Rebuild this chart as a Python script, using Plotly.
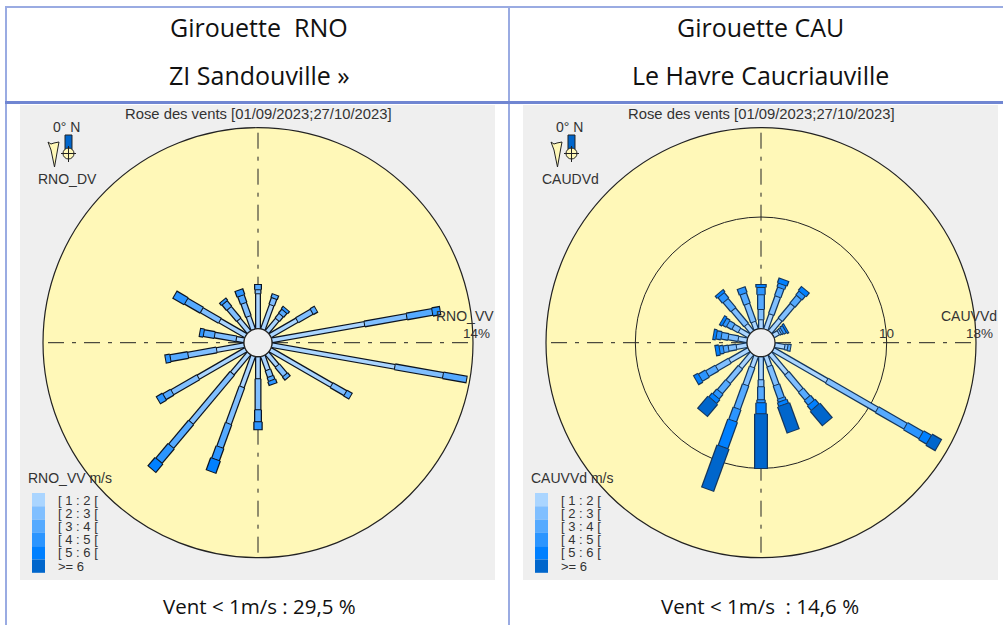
import plotly.graph_objects as go

W, H = 1003, 625
directions = [0, 20, 40, 60, 80, 100, 120, 140, 160, 180, 200, 220, 240, 260, 280, 300, 320, 340]
class_labels = ["[ 1 : 2 [", "[ 2 : 3 [", "[ 3 : 4 [", "[ 4 : 5 [", "[ 5 : 6 [", ">= 6"]
class_colors = ["#AAD5FF", "#80BFFF", "#55AAFF", "#2B95FF", "#0080FF", "#0066CC"]
class_widths = [3.5, 4.5, 5.5, 7, 9, 11.5]

# frequency (%) per speed class and direction
rno_c1 = [2.44, 1.81, 1.11, 2.16, 6.55, 8.70, 4.94, 1.11, 1.04, 1.53, 2.30, 1.81, 3.83, 1.95, 0.56, 2.09, 1.11, 0.97]
rno_c2 = [0.28, 0.49, 0.42, 1.18, 2.99, 3.41, 1.11, 0.84, 0.49, 2.16, 2.72, 4.46, 2.09, 2.02, 1.53, 1.46, 1.04, 0.97]
rno_c3 = [0.35, 0.28, 0.35, 0.35, 1.81, 1.67, 0.42, 0.28, 0.28, 0.84, 1.74, 2.16, 0.63, 1.25, 0.77, 1.25, 0.49, 0.56]
rno_c4 = [0, 0, 0.21, 0, 0.56, 0, 0, 0, 0.28, 0.56, 0.91, 1.32, 0.49, 0.35, 0.28, 0.91, 0.21, 0.42]
rno_c5 = [0, 0, 0, 0, 0, 0, 0, 0, 0, 0, 0.91, 0.77, 0, 0, 0, 0, 0, 0]
rno_c6 = [0] * 18

cau_c1 = [0.81, 1.43, 1.43, 0.54, 0, 0.90, 5.55, 2.33, 0.98, 2.06, 1.07, 1.61, 1.97, 0.98, 0.81, 0.98, 0.81, 0.72]
cau_c2 = [0.90, 1.70, 1.70, 0.18, 0, 0.27, 5.19, 1.97, 1.79, 0.63, 1.70, 1.70, 1.34, 0.72, 0.90, 0.63, 1.79, 1.70]
cau_c3 = [1.34, 0.81, 0.90, 0.18, 0, 0.27, 2.95, 0.90, 1.25, 1.16, 2.24, 1.16, 0.98, 0.45, 0.63, 0.54, 1.07, 0.98]
cau_c4 = [0.63, 0.36, 0.45, 0.27, 0, 0, 1.61, 0.54, 0.27, 0.27, 1.16, 0.54, 0.72, 0.36, 0.45, 0.36, 0.63, 0.54]
cau_c5 = [0.27, 0.45, 0.45, 0.18, 0, 0, 0.81, 0.54, 0.36, 0.98, 2.51, 0.45, 0.45, 0.36, 0.27, 0.27, 0.27, 0]
cau_c6 = [0, 0, 0, 0, 0, 0, 0.98, 1.70, 2.51, 4.92, 4.03, 1.43, 0, 0, 0, 0, 0, 0]

panels = [
    dict(sub="polar", name="RNO", dv="RNO_DV", vv="RNO_VV", rmax=14, grid=[0], edge="#0c1420",
         head=["Girouette  RNO", "ZI Sandouville »"], foot="Vent < 1m/s : 29,5 %", dx=0,
         data=[rno_c1, rno_c2, rno_c3, rno_c4, rno_c5, rno_c6]),
    dict(sub="polar2", name="CAU", dv="CAUDVd", vv="CAUVVd", rmax=18, grid=[0, 10], edge="#14365c",
         head=["Girouette CAU", "Le Havre Caucriauville"], foot="Vent < 1m/s  : 14,6 %", dx=503,
         data=[cau_c1, cau_c2, cau_c3, cau_c4, cau_c5, cau_c6]),
]

GRAY = "#EFEFEF"
YEL = "#FFF8B8"
RULE = "#9AABE2"
INK = "#333333"
SMALL = "Liberation Sans"
BODY = "Open Sans"

px = lambda x: x / W
py = lambda y: 1 - y / H

fig = go.Figure()
shapes, annos = [], []


def rect(x0, y0, x1, y1, color, line=None):
    shapes.append(dict(type="rect", xref="paper", yref="paper", x0=px(x0), x1=px(x1), y0=py(y1), y1=py(y0),
                       fillcolor=color, line=dict(width=0) if line is None else line, layer="below"))


def text(x, y, s, size=14, anchor="center", family=SMALL, color=INK):
    annos.append(dict(xref="paper", yref="paper", x=px(x), y=py(y), text=s, showarrow=False, xanchor=anchor,
                      yanchor="middle", font=dict(family=family, size=size, color=color), borderpad=0))


def poly(points, color, line_color="#222222"):
    path = "M" + " L".join(f"{px(x):.5f},{py(y):.5f}" for x, y in points) + " Z"
    shapes.append(dict(type="path", xref="paper", yref="paper", path=path, fillcolor=color,
                       line=dict(color=line_color, width=1), layer="above"))


# table rules
rect(5, 6, 7, 625, RULE)
rect(5, 6, 1003, 8, RULE)
rect(508, 6, 510, 625, RULE)
rect(5, 101, 1003, 104, "#7086D2")

for p in panels:
    dx = p["dx"]
    rect(20 + dx, 105, 495 + dx, 580, GRAY)
    cx, cy, R = 258 + dx, 342.7, 215
    dom = dict(x=[px(cx - R), px(cx + R)], y=[py(cy + R), py(cy - R)])
    fig.update_layout({p["sub"]: dict(
        domain=dom, bgcolor=YEL, hole=14 / 215,
        radialaxis=dict(range=[0, p["rmax"]], tickvals=p["grid"], showticklabels=False, ticks="",
                        showline=False, gridcolor="#222222", gridwidth=1, angle=90),
        angularaxis=dict(rotation=90, direction="clockwise", tickvals=[0, 90, 180, 270], showticklabels=False,
                         ticks="", gridcolor="#222222", gridwidth=1.4, griddash="16px,8px,4px,8px",
                         showline=True, linecolor="#222222", linewidth=1.2),
    )})
    # half a pixel expressed in percent, leaves a dark seam between speed classes
    seam = p["rmax"] / 201 * 0.5
    cum = [0] * 18
    for k, vals in enumerate(p["data"]):
        r_edge, t_edge, r_fill, t_fill = [], [], [], []
        for i, v in enumerate(vals):
            if v > 0:
                r_edge += [cum[i], cum[i] + v + seam, None]
                t_edge += [directions[i], directions[i], None]
                r_fill += [cum[i] + seam, cum[i] + v - seam, None]
                t_fill += [directions[i], directions[i], None]
                cum[i] += v
        fig.add_trace(go.Scatterpolar(r=r_edge, theta=t_edge, subplot=p["sub"], mode="lines", showlegend=False,
                                      hoverinfo="skip", line=dict(color=p["edge"], width=class_widths[k] + 2.5)))
        fig.add_trace(go.Scatterpolar(r=r_fill, theta=t_fill, subplot=p["sub"], mode="lines", showlegend=False,
                                      name=class_labels[k], line=dict(color=class_colors[k], width=class_widths[k])))
    # header / footer
    hx = 259 if dx == 0 else 760
    text(hx, 27, p["head"][0], 25, family=BODY, color="#111111")
    text(hx, 75, p["head"][1], 25, family=BODY, color="#111111")
    text(hx, 606, p["foot"], 20.5, family=BODY, color="#111111")
    # panel text
    text(258 + dx, 114, "Rose des vents [01/09/2023;27/10/2023]", 14.8)
    text(66 + dx, 127, "0° N")
    text(67 + dx, 179, p["dv"])
    text(27 + dx, 478, p["vv"] + " m/s", anchor="left")
    text(495 + dx, 316, p["vv"], anchor="right")
    text(491 + dx, 333, f"{p['rmax']}%", 13.5, anchor="right")
    if dx:
        text(885 + 1, 333, "10", 13.5)
    # compass icon
    poly([(48 + dx, 142), (51 + dx, 144), (54 + dx, 143), (59 + dx, 142), (57.5 + dx, 150), (54.5 + dx, 167), (51 + dx, 150)], YEL)
    poly([(65 + dx, 135), (72 + dx, 135), (72 + dx, 150), (65 + dx, 150)], "#0066CC")
    shapes.append(dict(type="circle", xref="paper", yref="paper", x0=px(63 + dx), x1=px(74 + dx), y0=py(159), y1=py(148),
                       fillcolor=YEL, line=dict(color="#222222", width=1)))
    shapes.append(dict(type="line", xref="paper", yref="paper", x0=px(61 + dx), x1=px(76 + dx), y0=py(153.5), y1=py(153.5), line=dict(color="#222222", width=1)))
    shapes.append(dict(type="line", xref="paper", yref="paper", x0=px(68.5 + dx), x1=px(68.5 + dx), y0=py(146), y1=py(162), line=dict(color="#222222", width=1)))
    # speed-class strip
    for k, lab in enumerate(class_labels):
        y0 = 493 + k * 13.3
        rect(32 + dx, y0, 45 + dx, y0 + 13.3, class_colors[k])
        text(57 + dx, 500 + k * 13.2, lab, 13, anchor="left")

fig.update_layout(width=W, height=H, autosize=False, margin=dict(l=0, r=0, t=0, b=0), paper_bgcolor="white",
                  shapes=shapes, annotations=annos, showlegend=False)
fig.write_html("out.html", config=dict(displayModeBar=False), post_script="document.body.style.margin='0';")
